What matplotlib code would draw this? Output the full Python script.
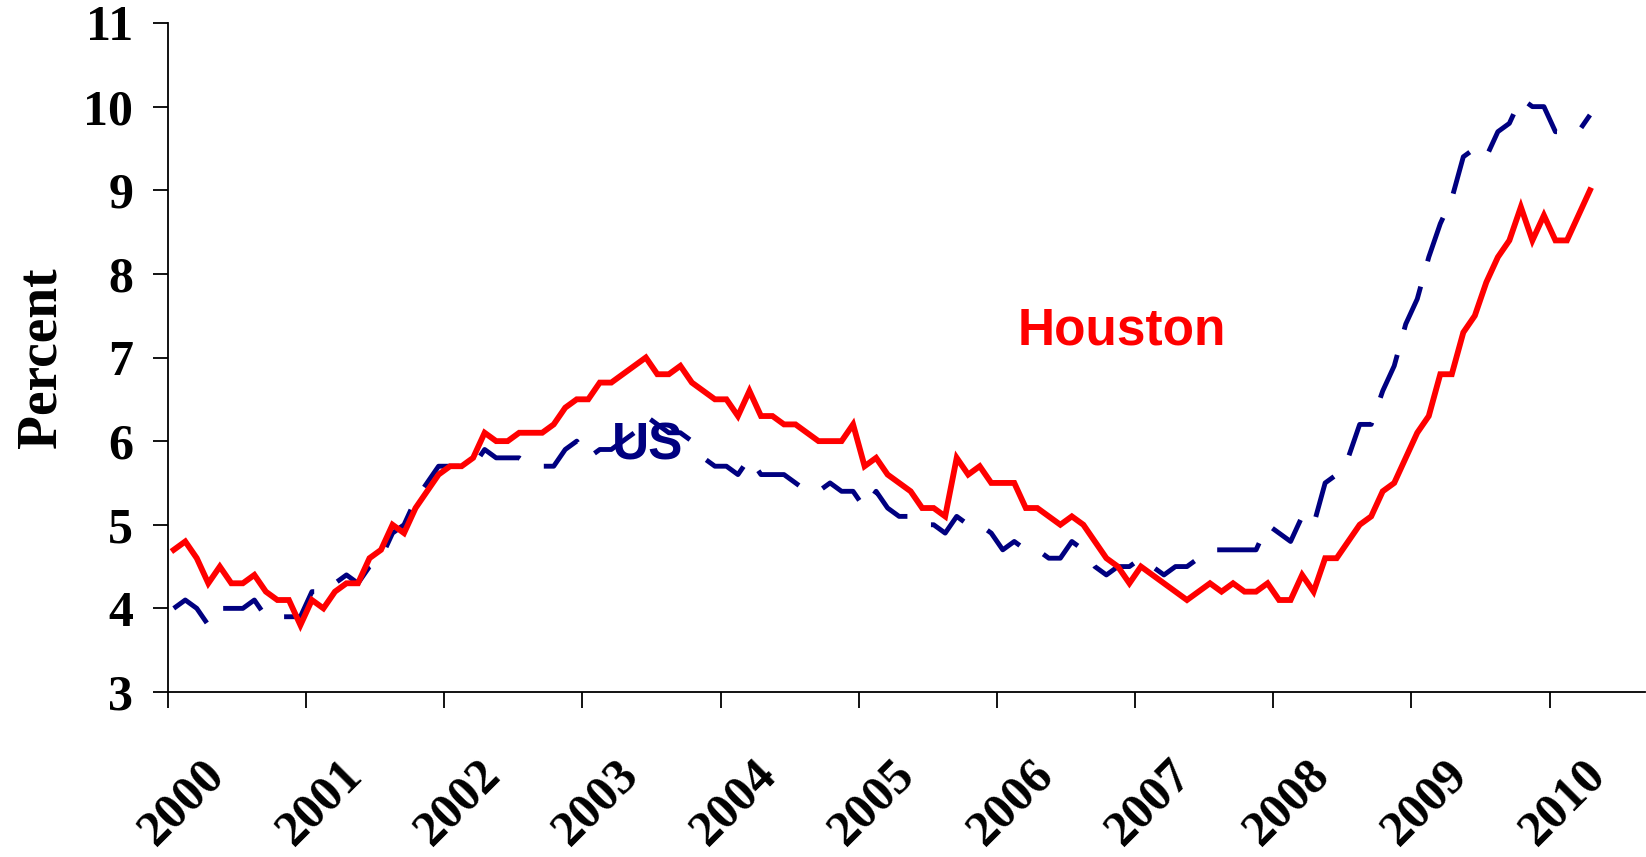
import numpy as np
import matplotlib
matplotlib.use("Agg")
import matplotlib.pyplot as plt
import matplotlib.transforms as mtransforms

# ---- data (monthly, Jan 2000 - Apr 2010) ----
houston = [
    4.7, 4.8, 4.6, 4.3, 4.5, 4.3, 4.3, 4.4, 4.2, 4.1, 4.1, 3.8,   # 2000
    4.1, 4.0, 4.2, 4.3, 4.3, 4.6, 4.7, 5.0, 4.9, 5.2, 5.4, 5.6,   # 2001
    5.7, 5.7, 5.8, 6.1, 6.0, 6.0, 6.1, 6.1, 6.1, 6.2, 6.4, 6.5,   # 2002
    6.5, 6.7, 6.7, 6.8, 6.9, 7.0, 6.8, 6.8, 6.9, 6.7, 6.6, 6.5,   # 2003
    6.5, 6.3, 6.6, 6.3, 6.3, 6.2, 6.2, 6.1, 6.0, 6.0, 6.0, 6.2,   # 2004
    5.7, 5.8, 5.6, 5.5, 5.4, 5.2, 5.2, 5.1, 5.8, 5.6, 5.7, 5.5,   # 2005
    5.5, 5.5, 5.2, 5.2, 5.1, 5.0, 5.1, 5.0, 4.8, 4.6, 4.5, 4.3,   # 2006
    4.5, 4.4, 4.3, 4.2, 4.1, 4.2, 4.3, 4.2, 4.3, 4.2, 4.2, 4.3,   # 2007
    4.1, 4.1, 4.4, 4.2, 4.6, 4.6, 4.8, 5.0, 5.1, 5.4, 5.5, 5.8,   # 2008
    6.1, 6.3, 6.8, 6.8, 7.3, 7.5, 7.9, 8.2, 8.4, 8.8, 8.4, 8.7,   # 2009
    8.4, 8.4, 8.7, 9.0,                                           # 2010
]
us = [
    4.0, 4.1, 4.0, 3.8, 4.0, 4.0, 4.0, 4.1, 3.9, 3.9, 3.9, 3.9,   # 2000
    4.2, 4.2, 4.3, 4.4, 4.3, 4.5, 4.6, 4.9, 5.0, 5.3, 5.5, 5.7,   # 2001
    5.7, 5.7, 5.7, 5.9, 5.8, 5.8, 5.8, 5.7, 5.7, 5.7, 5.9, 6.0,   # 2002
    5.8, 5.9, 5.9, 6.0, 6.1, 6.3, 6.2, 6.1, 6.1, 6.0, 5.8, 5.7,   # 2003
    5.7, 5.6, 5.8, 5.6, 5.6, 5.6, 5.5, 5.4, 5.4, 5.5, 5.4, 5.4,   # 2004
    5.2, 5.4, 5.2, 5.1, 5.1, 5.0, 5.0, 4.9, 5.1, 5.0, 5.0, 4.9,   # 2005
    4.7, 4.8, 4.7, 4.7, 4.6, 4.6, 4.8, 4.7, 4.5, 4.4, 4.5, 4.5,   # 2006
    4.6, 4.5, 4.4, 4.5, 4.5, 4.6, 4.7, 4.7, 4.7, 4.7, 4.7, 5.0,   # 2007
    4.9, 4.8, 5.1, 5.0, 5.5, 5.6, 5.8, 6.2, 6.2, 6.6, 6.9, 7.4,   # 2008
    7.7, 8.2, 8.6, 8.9, 9.4, 9.5, 9.4, 9.7, 9.8, 10.1, 10.0, 10.0,  # 2009
    9.7, 9.7, 9.7, 9.9,                                           # 2010
]
start_year = 2000
year_ticks = list(range(2000, 2011))
year_labels = [str(y) for y in year_ticks]
y_ticks = list(range(3, 12))

# ---- figure ----
fig = plt.figure(figsize=(16.46, 8.57), dpi=100)
ax = fig.add_axes([168 / 1646, 1 - 692 / 857, (1645 - 168) / 1646, (692 - 23) / 857])

months = np.arange(len(houston))
x = start_year + (months + 0.5) / 12.0

lw_us = 3.5
ax.plot(x, us, color="#000080", lw=lw_us,
        linestyle=(0, (9.5, 5.4)), dash_capstyle="butt", zorder=2)
ax.plot(x, houston, color="#FF0000", lw=4.2, solid_joinstyle="miter",
        zorder=3)

ax.set_xlim(2000, 2010.69)
ax.set_ylim(3, 11)

serif = "Liberation Serif"
sans = "Liberation Sans"

ax.tick_params(axis="y", direction="out", length=11, width=1.3, pad=14)
ax.tick_params(axis="x", direction="out", length=11.5, width=1.3, pad=31)

ax.set_yticks(y_ticks)
ax.set_yticklabels([str(v) for v in y_ticks], fontfamily=serif,
                   fontweight="bold", fontsize=36)
ax.set_xticks(year_ticks)
ax.set_xticklabels(year_labels, fontfamily=serif, fontweight="bold",
                   fontsize=36, rotation=45, ha="center", va="top")

offset = mtransforms.ScaledTranslation(10 / 72, 0, fig.dpi_scale_trans)
for lab in ax.get_xticklabels():
    lab.set_transform(lab.get_transform() + offset)

for side in ("top", "right"):
    ax.spines[side].set_visible(False)
for side in ("left", "bottom"):
    ax.spines[side].set_linewidth(1.3)

ax.set_ylabel("Percent", fontfamily=serif, fontweight="bold", fontsize=40)
ax.yaxis.set_label_coords(-0.068, 0.5)

ax.text(2006.15, 7.15, "Houston", color="#FF0000", fontfamily=sans,
        fontweight="bold", fontsize=37, ha="left", va="baseline", zorder=4)
ax.text(2003.21, 5.775, "US", color="#000080", fontfamily=sans,
        fontweight="bold", fontsize=37, ha="left", va="baseline", zorder=4)

fig.savefig("out.png", dpi=100)
